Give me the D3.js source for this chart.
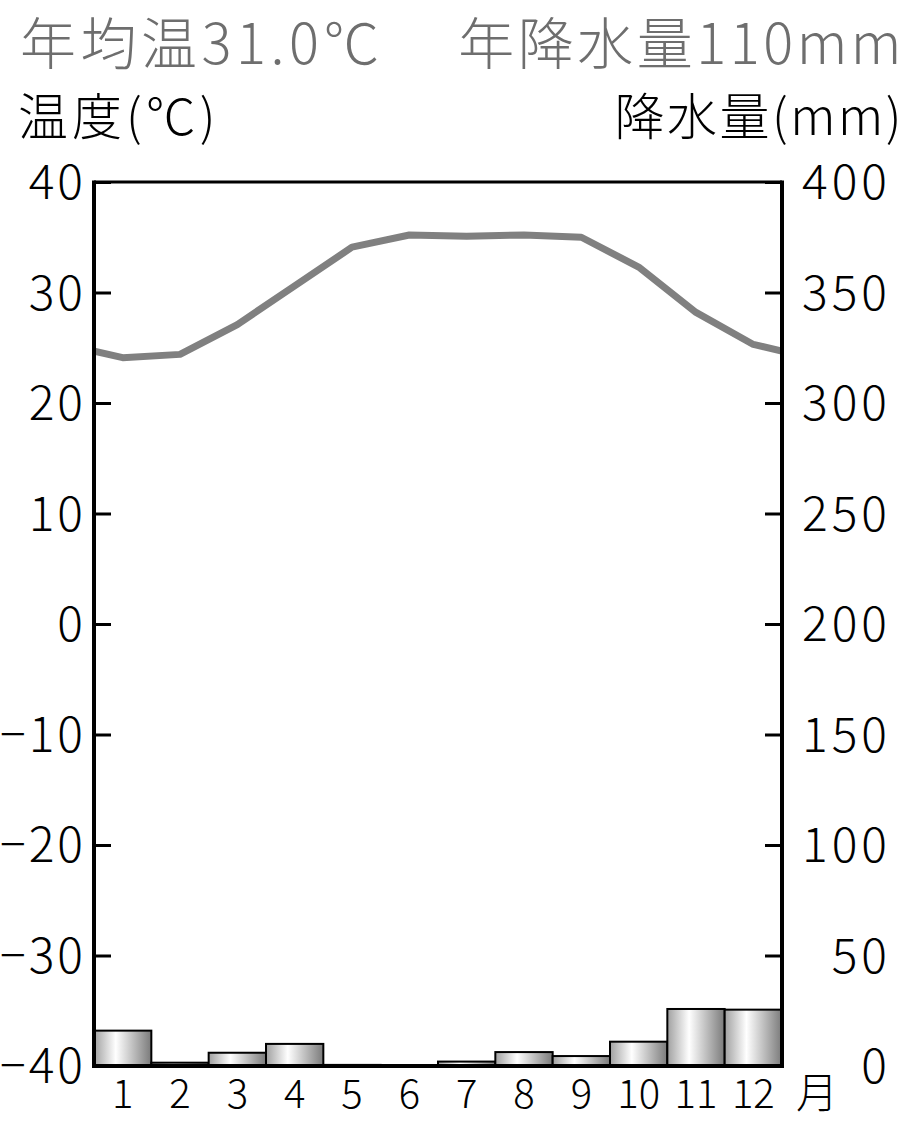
<!DOCTYPE html>
<html><head><meta charset="utf-8">
<script src="https://cdn.jsdelivr.net/npm/d3@7"></script>
<style>
html,body{margin:0;padding:0;background:#fff;}
svg{display:block;font-family:"Noto Sans CJK JP","Noto Sans",sans-serif;font-weight:300;}
</style></head>
<body><svg id="c" width="915" height="1128"></svg>
<script>
const months = [1,2,3,4,5,6,7,8,9,10,11,12];
const monthLabels = ["1","2","3","4","5","6","7","8","9","10","11","12"];
const temperature = [24.1, 24.4, 27.1, 30.6, 34.1, 35.2, 35.1, 35.2, 35.0, 32.3, 28.2, 25.3];
const precipitation = [16, 1.5, 6, 10, 0.5, 0, 2, 6.3, 4.5, 11, 25.8, 25.5];
const tempTicks = [-40,-30,-20,-10,0,10,20,30,40];
const precTicks = [0,50,100,150,200,250,300,350,400];
const titleTemp = "年均温31.0℃";
const titlePrec = "年降水量110mm";
const axisTitleTemp = "温度(℃)";
const axisTitlePrec = "降水量(mm)";
const monthUnit = "月";

const FONT = '"Noto Sans CJK JP","Noto Sans",sans-serif';
const svg = d3.select("#c");
const L = 94, R = 782, T = 182, B = 1066;

const x = d3.scaleBand().domain(months).range([L, R]).padding(0);
const xl = d3.scaleLinear().domain([0.5, 12.5]).range([L, R]);
const yT = d3.scaleLinear().domain([-40, 40]).range([B, T]);
const yP = d3.scaleLinear().domain([0, 400]).range([B, T]);

const defs = svg.append("defs");
const grad = defs.append("linearGradient").attr("id","barg").attr("x1","0").attr("x2","1").attr("y1","0").attr("y2","0");
grad.append("stop").attr("offset","0").attr("stop-color","#a0a0a0");
grad.append("stop").attr("offset","0.38").attr("stop-color","#ffffff");
grad.append("stop").attr("offset","1").attr("stop-color","#7a7a7a");
defs.append("clipPath").attr("id","plotclip").append("rect")
  .attr("x", L).attr("y", T).attr("width", R - L).attr("height", B - T);

// bars
svg.append("g").selectAll("rect").data(months).join("rect")
  .attr("x", d => x(d))
  .attr("width", x.bandwidth())
  .attr("y", (d,i) => yP(precipitation[i]))
  .attr("height", (d,i) => yP(0) - yP(precipitation[i]))
  .attr("fill", "url(#barg)")
  .attr("stroke", "#000").attr("stroke-width", 2);

// temperature line (wraps around year, clipped to plot)
const linePts = [{m:0, t:temperature[11]}]
  .concat(months.map((m,i) => ({m:m, t:temperature[i]})))
  .concat([{m:13, t:temperature[0]}]);
svg.append("path").datum(linePts)
  .attr("clip-path","url(#plotclip)")
  .attr("fill","none").attr("stroke","#808080").attr("stroke-width",7)
  .attr("stroke-linejoin","round")
  .attr("d", d3.line().x(d => xl(d.m)).y(d => yT(d.t)));

// left axis
const ax = svg.append("g").attr("transform",`translate(${L},0)`)
  .call(d3.axisLeft(yT).tickValues(tempTicks).tickSize(-17).tickPadding(8).tickFormat(d => d < 0 ? "−" + Math.abs(d) : d));
ax.select(".domain").remove();
ax.selectAll("line").attr("stroke","#000").attr("stroke-width",3);
ax.selectAll("text").attr("font-size",48).attr("fill","#000").attr("font-family",FONT).attr("font-weight",300)
  .attr("letter-spacing", 3).attr("dy","0.35em");

// right axis (labels right-aligned)
const ay = svg.append("g").attr("transform",`translate(${R},0)`)
  .call(d3.axisRight(yP).tickValues(precTicks).tickSize(-17).tickPadding(14));
ay.select(".domain").remove();
ay.selectAll("line").attr("stroke","#000").attr("stroke-width",3);
ay.selectAll("text").attr("font-size",48).attr("fill","#000").attr("font-family",FONT).attr("font-weight",300)
  .attr("letter-spacing", 4).attr("dy","0.35em").attr("text-anchor","end").attr("x", 109);

// frame
svg.append("line").attr("x1",L).attr("x2",R).attr("y1",T).attr("y2",T).attr("stroke","#000").attr("stroke-width",3);
svg.append("line").attr("x1",L).attr("x2",L).attr("y1",T-1.5).attr("y2",B+2).attr("stroke","#000").attr("stroke-width",4);
svg.append("line").attr("x1",R).attr("x2",R).attr("y1",T-1.5).attr("y2",B+2).attr("stroke","#000").attr("stroke-width",4);
svg.append("line").attr("x1",L-2).attr("x2",R+2).attr("y1",B).attr("y2",B).attr("stroke","#000").attr("stroke-width",4);

// month axis
const axb = svg.append("g").attr("transform",`translate(0,${B})`)
  .call(d3.axisBottom(x).tickSize(0).tickPadding(0).tickFormat((d,i) => monthLabels[i]));
axb.select(".domain").remove();
axb.selectAll("text").attr("font-size",40).attr("fill","#000").attr("font-family",FONT).attr("font-weight",300)
  .attr("y", 42).attr("dy", 0);
svg.append("text").attr("x", 796).attr("y", 1108).attr("font-size", 42).text(monthUnit);

// titles
svg.append("text").attr("x", 20).attr("y", 64).attr("font-size", 56).attr("letter-spacing", 4.5).attr("fill","#6e6e6e").text(titleTemp);
svg.append("text").attr("x", 905).attr("y", 64).attr("text-anchor","end").attr("font-size", 56).attr("letter-spacing", 3.5).attr("fill","#6e6e6e").text(titlePrec);
svg.append("text").attr("x", 18).attr("y", 135).attr("font-size", 50).attr("letter-spacing", 4).attr("fill","#000").text(axisTitleTemp);
svg.append("text").attr("x", 904).attr("y", 135).attr("text-anchor","end").attr("font-size", 50).attr("letter-spacing", 2.5).attr("fill","#000").text(axisTitlePrec);
</script></body></html>
